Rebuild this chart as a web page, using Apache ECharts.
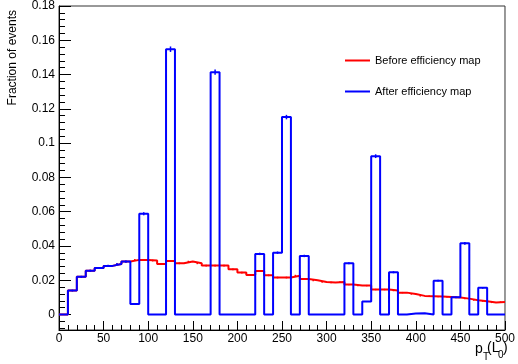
<!DOCTYPE html>
<html>
<head>
<meta charset="utf-8">
<script src="https://cdn.jsdelivr.net/npm/echarts@6/dist/echarts.min.js"></script>
<style>
  html, body { margin: 0; padding: 0; background: #fff; }
  #chart { width: 518px; height: 364px; }
</style>
</head>
<body>
<div id="chart"></div>
<script>
// bin lower edges (width 10)
const binLow = [0, 10, 20, 30, 40, 50, 60, 70, 80, 90,
  100, 110, 120, 130, 140, 150, 160, 170, 180, 190,
  200, 210, 220, 230, 240, 250, 260, 270, 280, 290,
  300, 310, 320, 330, 340, 350, 360, 370, 380, 390,
  400, 410, 420, 430, 440, 450, 460, 470, 480, 490];

// y axis major / minor tick positions
const yMajor = [0, 0.02, 0.04, 0.06, 0.08, 0.1, 0.12, 0.14, 0.16, 0.18];
const yMinor = [-0.008, -0.004, 0.004, 0.008, 0.012, 0.016, 0.024, 0.028, 0.032, 0.036,
  0.044, 0.048, 0.052, 0.056, 0.064, 0.068, 0.072, 0.076, 0.084, 0.088, 0.092, 0.096,
  0.104, 0.108, 0.112, 0.116, 0.124, 0.128, 0.132, 0.136, 0.144, 0.148, 0.152, 0.156,
  0.164, 0.168, 0.172, 0.176];

// Before efficiency map
const before = [0, 0.014, 0.022, 0.0256, 0.0272, 0.0284, 0.0295, 0.0309, 0.0319, 0.0319,
  0.0315, 0.0295, 0.0313, 0.0299, 0.0309, 0.0299, 0.0286, 0.0286, 0.0286, 0.0264,
  0.0245, 0.0231, 0.0254, 0.0229, 0.0216, 0.0216, 0.0227, 0.0208, 0.02, 0.019,
  0.0187, 0.019, 0.0175, 0.0169, 0.0169, 0.0146, 0.0146, 0.014, 0.0128, 0.012,
  0.0109, 0.0107, 0.0105, 0.0103, 0.0099, 0.0093, 0.0084, 0.0078, 0.007, 0.0074];
const beforeErr = [0, 0.0004, 0.0005, 0.0005, 0.0005, 0.0005, 0.0005, 0.0005, 0.0005, 0.0005,
  0.0005, 0.0005, 0.0005, 0.0005, 0.0005, 0.0005, 0.0005, 0.0005, 0.0005, 0.0005,
  0.0005, 0.0005, 0.0005, 0.0005, 0.0005, 0.0005, 0.0005, 0.0005, 0.0005, 0.0004,
  0.0004, 0.0004, 0.0004, 0.0004, 0.0004, 0.0004, 0.0004, 0.0004, 0.0004, 0.0004,
  0.0004, 0.0004, 0.0004, 0.0004, 0.0004, 0.0004, 0.0003, 0.0003, 0.0003, 0.0003];

// After efficiency map
const after = [0, 0.014, 0.022, 0.0256, 0.0272, 0.0284, 0.0295, 0.0309, 0.0062, 0.0588,
  0, 0, 0.1548, 0, 0, 0, 0, 0.1414, 0, 0,
  0, 0, 0.0354, 0, 0.0361, 0.1152, 0, 0.0342, 0, 0,
  0, 0, 0.0299, 0, 0.0076, 0.0924, 0, 0.0247, 0, 0.0006,
  0.0008, 0, 0.0198, 0, 0.0101, 0.0416, 0, 0.0156, 0, 0];
const afterErr = [0, 0.0005, 0.0006, 0.0006, 0.0006, 0.0006, 0.0006, 0.0006, 0.0004, 0.0009,
  0, 0, 0.0016, 0, 0, 0, 0, 0.0015, 0, 0,
  0, 0, 0.0007, 0, 0.0007, 0.0013, 0, 0.0007, 0, 0,
  0, 0, 0.0006, 0, 0.0003, 0.0011, 0, 0.0006, 0, 0.0001,
  0.0001, 0, 0.0005, 0, 0.0004, 0.0008, 0, 0.0005, 0, 0];

const chart = echarts.init(document.getElementById('chart'));

// step points: left edge of each bin, plus closing point at 500
function stepData(vals) {
  const d = binLow.map((x, i) => [x, vals[i]]);
  d.push([500, vals[vals.length - 1]]);
  return d;
}

function errData(vals, errs) {
  return binLow.map((x, i) => [x + 5, vals[i], errs[i]]).filter(d => d[2] > 0);
}

function errSeries(name, vals, errs, color) {
  return {
    name: name,
    type: 'custom',
    data: errData(vals, errs),
    z: 3,
    renderItem: (params, api) => {
      const x = api.value(0), v = api.value(1), e = api.value(2);
      const p1 = api.coord([x, v - e]);
      const p2 = api.coord([x, v + e]);
      return {
        type: 'line',
        shape: { x1: p1[0], y1: p1[1], x2: p2[0], y2: p2[1] },
        style: { stroke: color, lineWidth: 1.5 },
      };
    },
  };
}

const FONT = 'Liberation Sans, Arial, sans-serif';
const axisFont = { fontFamily: FONT, fontSize: 12, color: '#000' };
const Y_MIN = -0.009, Y_MAX = 0.18;

chart.setOption({
  animation: false,
  textStyle: { fontFamily: FONT },
  grid: {
    left: 59, right: 9, top: 6, bottom: 34,
    show: true, borderColor: '#333', borderWidth: 1,
  },
  legend: {
    orient: 'vertical',
    left: 345,
    top: 55,
    padding: 0,
    icon: 'rect',
    itemWidth: 25,
    itemHeight: 2,
    itemGap: 20,
    data: ['Before efficiency map', 'After efficiency map'],
    textStyle: { fontSize: 11, color: '#000', fontFamily: FONT },
  },
  xAxis: {
    type: 'value',
    min: 0,
    max: 500,
    interval: 50,
    axisLine: { onZero: false, lineStyle: { color: '#000', width: 1 } },
    axisTick: { inside: true, length: 9, lineStyle: { color: '#000' } },
    minorTick: { show: true, splitNumber: 5, length: 5, lineStyle: { color: '#000' } },
    axisLabel: Object.assign({ margin: 3 }, axisFont),
    splitLine: { show: false },
  },
  yAxis: [
    {
      type: 'value',
      min: Y_MIN,
      max: Y_MAX,
      axisLine: { lineStyle: { color: '#000', width: 1 } },
      axisTick: { inside: true, length: 12, customValues: yMajor, lineStyle: { color: '#000' } },
      axisLabel: Object.assign({ margin: 4, customValues: yMajor }, axisFont),
      splitLine: { show: false },
    },
    {
      // minor ticks only
      type: 'value',
      position: 'left',
      min: Y_MIN,
      max: Y_MAX,
      axisLine: { show: false },
      axisTick: { inside: true, length: 6, customValues: yMinor, lineStyle: { color: '#000' } },
      axisLabel: { show: false },
      splitLine: { show: false },
    },
  ],
  graphic: [
    {
      type: 'text', x: 13, y: 10, rotation: Math.PI / 2,
      style: { text: 'Fraction of events', fontSize: 12, fill: '#000', align: 'right', verticalAlign: 'middle', fontFamily: FONT },
    },
    { type: 'text', x: 475, y: 342, style: { text: 'p', fontSize: 14, fill: '#000', fontFamily: FONT } },
    { type: 'text', x: 483, y: 352, style: { text: 'T', fontSize: 10, fill: '#000', fontFamily: FONT } },
    { type: 'text', x: 487, y: 341, style: { text: '(L', fontSize: 14, fill: '#000', fontFamily: FONT } },
    { type: 'text', x: 498, y: 350, style: { text: '0', fontSize: 10, fill: '#000', fontFamily: FONT } },
    { type: 'text', x: 503, y: 341, style: { text: ')', fontSize: 14, fill: '#000', fontFamily: FONT } },
  ],
  series: [
    {
      name: 'Before efficiency map',
      type: 'line',
      step: 'end',
      symbol: 'none',
      data: stepData(before),
      lineStyle: { color: '#ff0000', width: 2 },
      itemStyle: { color: '#ff0000' },
      z: 2,
    },
    errSeries('beforeErr', before, beforeErr, '#ff0000'),
    {
      name: 'After efficiency map',
      type: 'line',
      step: 'end',
      symbol: 'none',
      data: stepData(after),
      lineStyle: { color: '#0000ff', width: 2 },
      itemStyle: { color: '#0000ff' },
      z: 4,
    },
    errSeries('afterErr', after, afterErr, '#0000ff'),
  ],
});
</script>
</body>
</html>
